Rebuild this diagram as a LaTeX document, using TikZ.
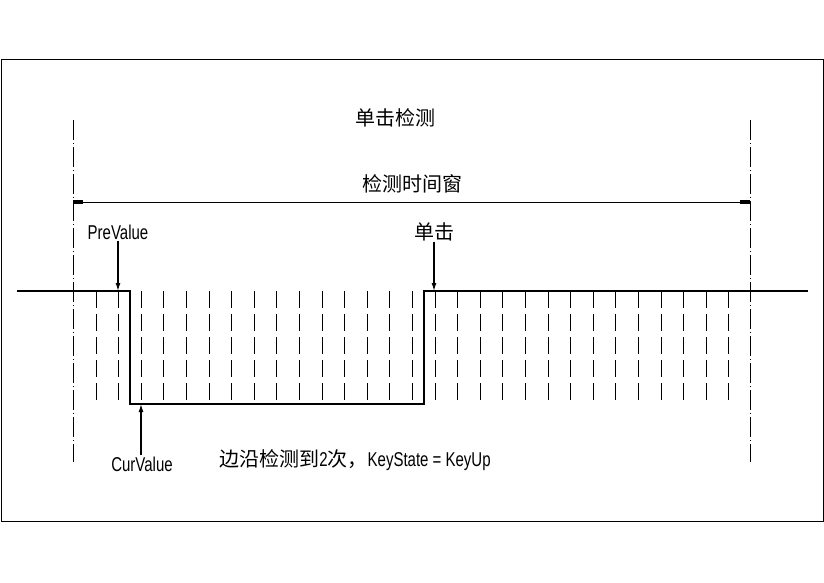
\documentclass[tikz,border=0pt]{standalone}
\usepackage{fontspec}
\setmainfont{Liberation Sans}[FakeStretch=0.75]
\newfontfamily\cjk{Noto Sans CJK SC}
\usetikzlibrary{arrows.meta}
\begin{document}
\begin{tikzpicture}[x=1pt,y=-1pt,
  lbl/.style={inner sep=1pt,font=\fontsize{20}{20}\selectfont},
  sig/.style={line width=1.8pt},
  tick/.style={dash pattern=on 17pt off 6pt, line width=0.7pt},
  bound/.style={dash pattern=on 20pt off 3pt on 1pt off 3pt, line width=0.8pt},
  ptr/.style={line width=1.3pt,-{Latex[length=8pt,width=5pt]}}]
\useasboundingbox (0,0) rectangle (824,583);
\draw[line width=1pt] (1,60) rectangle (823,521);
\draw[bound] (73,120) -- (73,462);
\draw[bound] (750,120) -- (750,462);
\coordinate (wl) at (73,202); \coordinate (wr) at (750,202);
\draw[line width=0.8pt,{Rectangle[length=10pt,width=4pt]}-{Rectangle[length=10pt,width=4pt]}] (wl) -- (wr);
\foreach \k in {0,...,28} \draw[tick] ({96+22.6*\k},291) -- ({96+22.6*\k},405);
\draw[sig] (17,291) -- (130,291) -- (130,404) -- (424,404) -- (424,291) -- (808,291);
\node[lbl] (t1) at (395,118) {\cjk 单击检测};
\node[lbl] (t2) at (412,184) {\cjk 检测时间窗};
\node[lbl] (pv) at (118,232) {PreValue};
\node[lbl] (dj) at (434,232) {\cjk 单击};
\node[lbl] (cv) at (142,464) {CurValue};
\node[lbl] (bt) at (355,460) {{\cjk 边沿检测到}2{\cjk 次，}KeyState = KeyUp};
\coordinate (pvt) at (118,291); \coordinate (djt) at (434,291); \coordinate (cvt) at (141,404);
\draw[ptr] (pv.south -| pvt) -- (pvt);
\draw[ptr] (dj.south -| djt) -- (djt);
\draw[ptr] (cv.north -| cvt) -- (cvt);
\end{tikzpicture}
\end{document}
